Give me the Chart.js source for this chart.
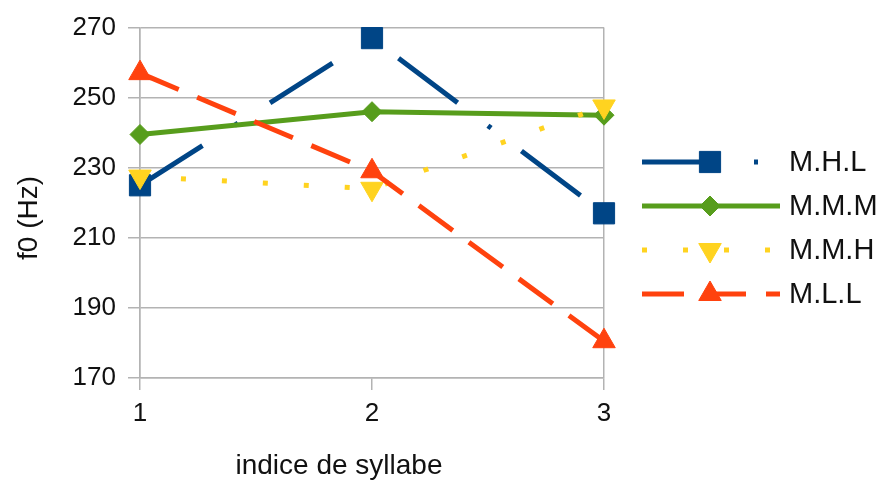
<!DOCTYPE html>
<html>
<head>
<meta charset="utf-8">
<script src="https://cdn.jsdelivr.net/npm/chart.js@4.4.1/dist/chart.umd.min.js"></script>
<style>
  html, body { margin: 0; padding: 0; background: #fff; }
  #wrap { width: 880px; height: 484px; }
</style>
</head>
<body>
<div id="wrap"><canvas id="c"></canvas></div>
<script>
// data
const syllables = [1, 2, 3];
const labelsSeries = ['M.H.L', 'M.M.M', 'M.M.H', 'M.L.L'];
const mhl = [225, 267, 217];
const mmm = [239.5, 246, 245];
const mmh = [227.5, 224, 247.5];
const mll = [257, 229, 180.5];
const yTicks = [170, 190, 210, 230, 250, 270];

const FONT = "'Liberation Sans', Arial, sans-serif";
const GRID = '#b3b3b3';

function pts(vals) {
  return vals.map((v, i) => ({ x: syllables[i], y: v }));
}

const datasets = [
  { label: labelsSeries[0], data: pts(mhl), borderColor: '#004586', backgroundColor: '#004586',
    borderDash: [74, 38, 4, 38], pointStyle: 'rect', pointRadius: 15, pointRotation: 0 },
  { label: labelsSeries[1], data: pts(mmm), borderColor: '#579d1c', backgroundColor: '#579d1c',
    borderDash: [], pointStyle: 'rectRot', pointRadius: 10, pointRotation: 0 },
  { label: labelsSeries[2], data: pts(mmh), borderColor: '#ffd320', backgroundColor: '#ffd320',
    borderDash: [5, 36], pointStyle: 'triangle', pointRadius: 13, pointRotation: 180 },
  { label: labelsSeries[3], data: pts(mll), borderColor: '#ff420e', backgroundColor: '#ff420e',
    borderDash: [42, 20], pointStyle: 'triangle', pointRadius: 13, pointRotation: 0 }
].map((d, i) => Object.assign(d, {
  borderWidth: 5, borderCapStyle: 'butt', pointBorderWidth: 1,
  pointHoverRadius: d.pointRadius, tension: 0, fill: false, clip: false,
  order: 3 - i // later series painted on top, like the original
}));

// legend on the right + axis titles, drawn like the office chart does it
const extras = {
  id: 'extras',
  afterDraw(chart) {
    const ctx = chart.ctx;
    ctx.save();
    chart.data.datasets.forEach((ds, i) => {
      const y = 162 + i * 44;
      ctx.save();
      ctx.strokeStyle = ds.borderColor;
      ctx.lineWidth = ds.borderWidth;
      ctx.lineCap = 'butt';
      ctx.setLineDash(ds.borderDash);
      ctx.beginPath();
      ctx.moveTo(642, y);
      ctx.lineTo(780, y);
      ctx.stroke();
      ctx.restore();
      ctx.save();
      ctx.fillStyle = ds.backgroundColor;
      ctx.strokeStyle = ds.borderColor;
      ctx.lineWidth = 1;
      Chart.helpers.drawPoint(ctx, {
        pointStyle: ds.pointStyle, rotation: ds.pointRotation,
        radius: ds.pointRadius, borderWidth: 1
      }, 710, y);
      ctx.restore();
      ctx.fillStyle = '#111';
      ctx.font = '29px ' + FONT;
      ctx.textBaseline = 'middle';
      ctx.textAlign = 'left';
      ctx.fillText(ds.label, 789, y + 1);
    });
    ctx.fillStyle = '#111';
    ctx.font = '28px ' + FONT;
    ctx.textAlign = 'center';
    ctx.textBaseline = 'middle';
    ctx.fillText('indice de syllabe', 339, 466);
    ctx.translate(29, 218);
    ctx.rotate(-Math.PI / 2);
    ctx.fillText('f0 (Hz)', 0, 0);
    ctx.restore();
  }
};

new Chart(document.getElementById('c'), {
  type: 'line',
  data: { datasets },
  plugins: [extras],
  options: {
    responsive: true,
    maintainAspectRatio: false,
    animation: false,
    layout: { padding: { left: 0, top: 24, right: 276, bottom: 0 } },
    plugins: { legend: { display: false }, tooltip: { enabled: false } },
    scales: {
      x: {
        type: 'linear', min: 1, max: 3,
        afterFit: (s) => { s.height = 106; },
        ticks: { stepSize: 1, padding: 8, color: '#111', font: { family: FONT, size: 26 } },
        grid: {
          color: (c) => (c.tick && c.tick.value === 2 ? 'rgba(0,0,0,0)' : GRID),
          tickColor: GRID, lineWidth: 1.5, tickLength: 12
        },
        border: { color: GRID, width: 1.5 }
      },
      y: {
        min: 170, max: 270,
        afterFit: (s) => { s.width = 140; },
        afterBuildTicks: (s) => { s.ticks = yTicks.map(v => ({ value: v })); },
        ticks: { padding: 12, color: '#111', font: { family: FONT, size: 26 } },
        grid: { color: GRID, tickColor: GRID, lineWidth: 1.5, tickLength: 12 },
        border: { color: GRID, width: 1.5 }
      }
    }
  }
});
</script>
</body>
</html>
